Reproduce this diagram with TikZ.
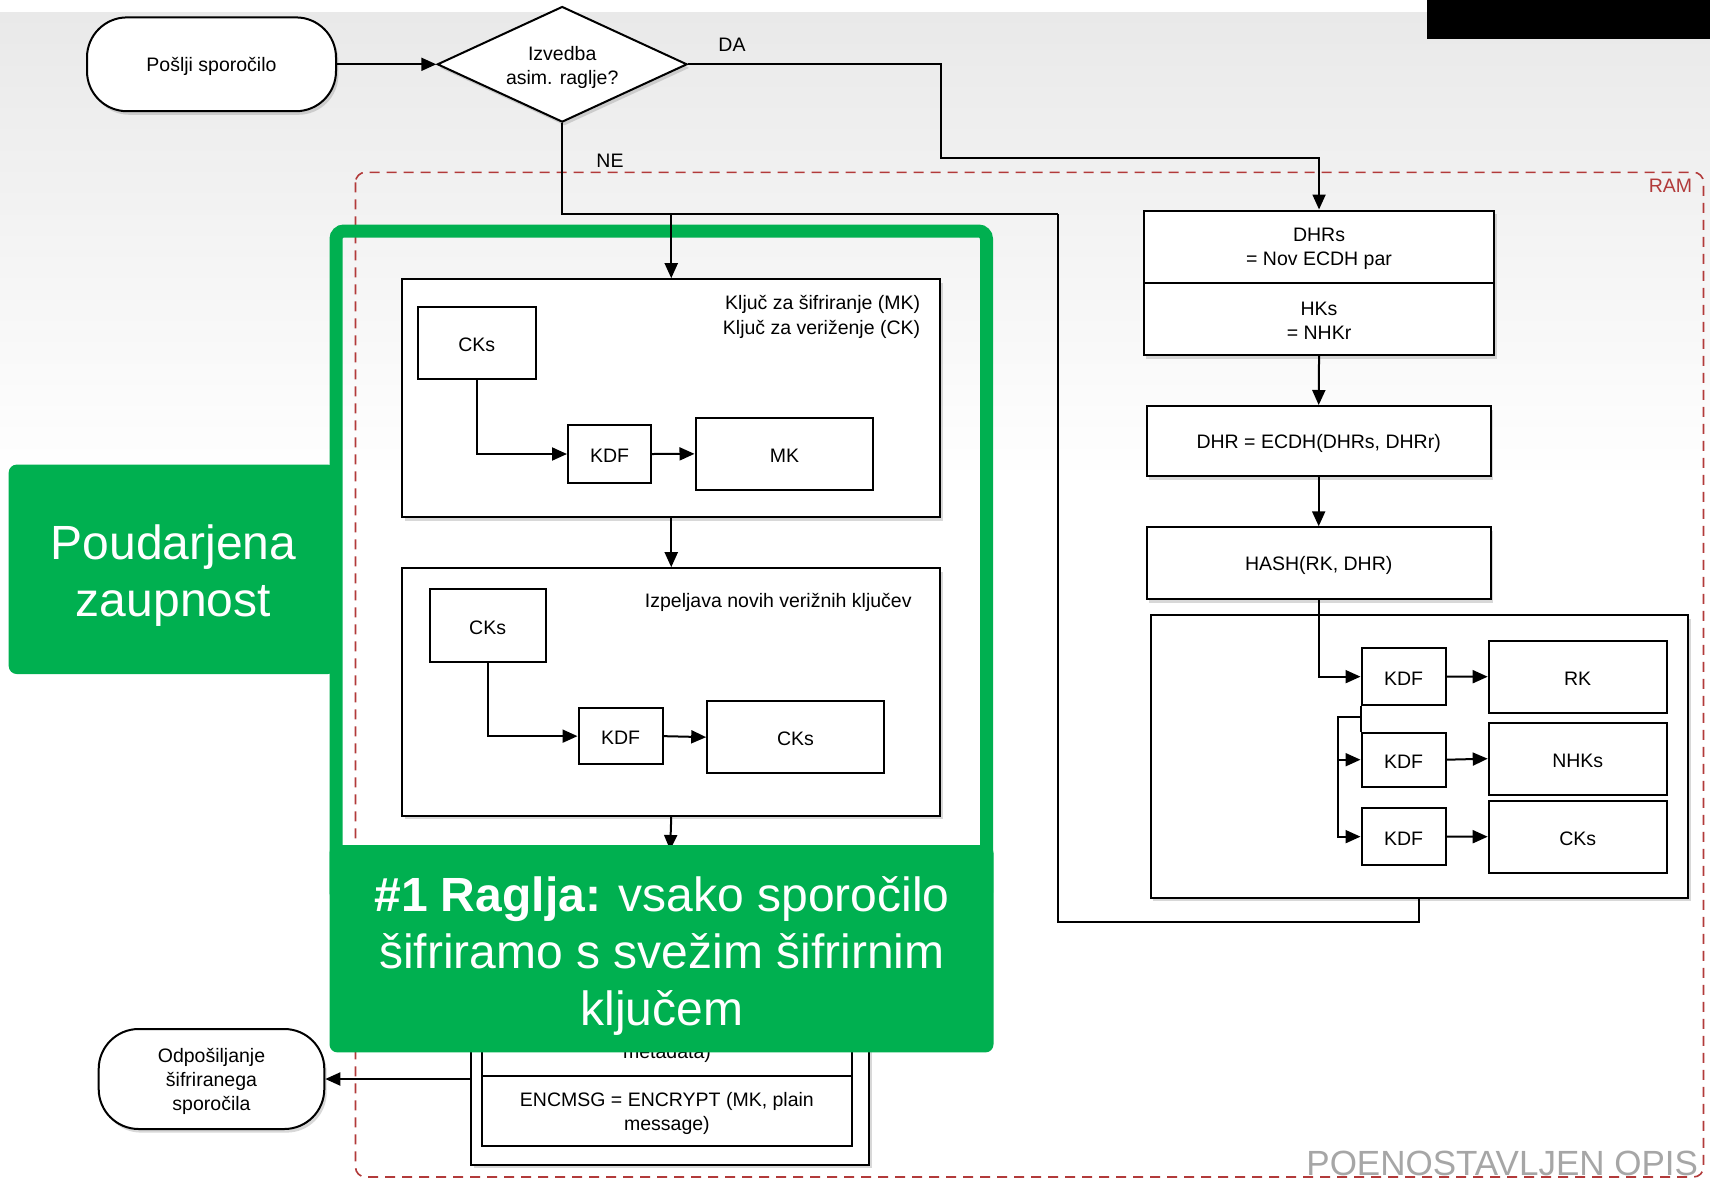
\documentclass[tikz,border=0pt]{standalone}
\usepackage{fontspec}
\setmainfont{Liberation Sans}
\usetikzlibrary{shapes.geometric,arrows.meta,fit,shadows}
\definecolor{hlgreen}{RGB}{0,176,80}
\definecolor{ramred}{RGB}{178,58,58}
\definecolor{bggray}{RGB}{233,233,233}
\begin{document}
\begin{tikzpicture}[x=0.5pt,y=-0.5pt,
  every node/.style={font=\fontsize{9.75}{12}\selectfont, inner sep=0pt},
  shad/.style={drop shadow={shadow xshift=1.2pt, shadow yshift=-1.8pt, opacity=0.3}},
  box/.style={draw, fill=white, line width=1pt, shad},
  plain/.style={draw, fill=white, line width=1pt},
  term/.style={draw, fill=white, line width=1pt, rounded corners=20pt, shad},
  txt/.style={label={[align=center, yshift=-1pt]center:{#1}}},
  arr/.style={line width=1pt, -{Triangle[length=7.5pt,width=6.5pt]}},
  conn/.style={line width=1pt},
  greenbox/.style={fill=hlgreen, rounded corners=4pt},
  greentext/.style={text=white, font=\fontsize{24}{28.7}\selectfont, align=center}
]
\useasboundingbox (0,0) rectangle (1710,1179);
% background
\fill[white] (0,0) rectangle (1710,1179);
\shade[top color=bggray, bottom color=white] (0,12) rectangle (1710,480);
\fill[black] (1426.5,0) rectangle (1710,39.3);

% RAM region
\draw[ramred, line width=0.8pt, dash pattern=on 5pt off 3.5pt, rounded corners=5pt] (355.5,172.3) rectangle (1703.5,1177);
\node[text=ramred, anchor=east] (ram) at (1692.6,185.4) {RAM};

% start and decision
\node[term, fit={(87,17.4)(336,111.2)}, txt={Pošlji sporočilo}] (start) {};
\node[draw, fill=white, line width=1pt, shape=diamond, aspect=2.16, minimum width=124.9pt, minimum height=57.8pt, shad,
      label={[align=center, yshift=-1.8pt]center:{Izvedba\\asim. raglje?}}] (dec) at (562.2,64.3) {};
\draw[arr] (start.east) -- (dec.west);
\node (da) at (732,45) {DA};
\node (ne) at (610,160.5) {NE};

% right column
\node[box, fit={(1144,210.5)(1494.1,355)}] (dh) {};
\node[plain, fit={(1144,210.5)(1494.1,283.3)}, txt={DHRs\\= Nov ECDH par}] (dhs) {};
\node[plain, fit={(1144,283.3)(1494.1,355)}, txt={HKs\\= NHKr}] (hks) {};
\node[box, fit={(1146.7,406)(1490.7,476)}, txt={DHR = ECDH(DHRs, DHRr)}] (dhr) {};
\node[box, fit={(1146.7,527.3)(1490.7,599.3)}, txt={HASH(RK, DHR)}] (hash) {};
\draw[arr] (dh.south) -- (dhr.north);
\draw[arr] (dhr.south) -- (hash.north);
\coordinate (daA) at (941.2,158.1);
\draw[arr] (dec.east) -| (daA) -| (dh.north);

\node[box, fit={(1150.6,615.1)(1688.2,897.6)}] (big) {};
\node[plain, fit={(1361.5,648.3)(1445.8,705)}, txt=KDF] (k1) {};
\node[plain, fit={(1361.5,732.7)(1445.8,786.7)}, txt=KDF] (k2) {};
\node[plain, fit={(1361.5,808.3)(1445.8,865)}, txt=KDF] (k3) {};
\node[plain, fit={(1488.7,640.7)(1666.7,712.7)}, txt=RK] (rk) {};
\node[plain, fit={(1488.7,722.7)(1666.7,794.7)}, txt=NHKs] (nhks) {};
\node[plain, fit={(1488.7,800.7)(1666.7,872.7)}, txt=CKs] (cks3) {};
\draw[arr] (hash.south) |- (k1.west);
\draw[conn] (k1.south west) -- (k2.north west);
\coordinate (brA) at (1361.5,716.7);
\coordinate (brB) at (1338.3,716.7);
\draw[arr] (brA) -- (brB) |- (k3.west);
\draw[arr] (brB |- k2.west) -- (k2.west);
\draw[arr] (k1.east) -- (rk.west);
\draw[arr] (k2.east) -- (nhks.west);
\draw[arr] (k3.east) -- (cks3.west);

% return loop and NE branch
\coordinate (rj) at (1057.9,213.8);
\coordinate (rb) at (1057.9,921.6);
\draw[conn] (big.south) |- (rb) -- (rj);
\draw[conn] (dec.south) |- (rj);

% box 1
\node[box, fit={(402.4,279.2)(940.1,516.9)}] (b1) {};
\node[anchor=east, align=right, font=\fontsize{9.75}{12.5}\selectfont] (b1t) at (920.6,316.5) {Ključ za šifriranje (MK)\\Ključ za veriženje (CK)};
\node[plain, fit={(418,306.7)(535.5,378.7)}, txt=CKs] (c1) {};
\node[plain, fit={(568,425.3)(651,482.7)}, txt=KDF] (kd1) {};
\node[plain, fit={(695.5,417.7)(873.3,490)}, txt=MK] (mk) {};
\draw[arr] (c1.south) |- (kd1.west);
\draw[arr] (kd1.east) -- (mk.west);

% box 2
\node[box, fit={(402.4,568.2)(940.1,815.8)}] (b2) {};
\node[anchor=east] (b2t) at (912,602) {Izpeljava novih verižnih ključev};
\node[plain, fit={(429.7,589.3)(545.5,662.3)}, txt=CKs] (c2) {};
\node[plain, fit={(578.5,708.3)(662.6,764)}, txt=KDF] (kd2) {};
\node[plain, fit={(707.2,701)(883.7,773.3)}, txt=CKs] (c2b) {};
\draw[arr] (c2.south) |- (kd2.west);
\draw[arr] (kd2.east) -- (c2b.west);
\draw[arr] (b1.south) -- (b2.north);

% encryption box
\node[box, fit={(471.1,851)(869.2,1164.8)}] (enc) {};
\node[plain, fit={(482,990)(851.8,1076)}] (row1) {};
\node[anchor=base] (meta) at (667,1058) {metadata)};
\node[plain, fit={(482,1076)(851.8,1146)}, txt={ENCMSG = ENCRYPT (MK, plain\\message)}] (row2) {};
\draw[arr] (b2.south) -- (enc.north);

\node[term, fit={(98.7,1029)(324.3,1129)}, txt={Odpošiljanje\\šifriranega\\sporočila}] (fin) {};
\draw[arr] (enc.west |- fin.east) -- (fin.east);

% highlight
\node[greenbox, fit={(8.7,464.6)(336,674)}] (pz) {};
\node[greentext] (pzt) at (173.4,575.4) {Poudarjena\\zaupnost};
\draw[hlgreen, line width=6.5pt, rounded corners=4pt] (336,231) rectangle (986.5,900);
\node[greenbox, fit={(329.5,845)(993.5,1052.4)}] (rg) {};
\node[greentext] (rgt) at (662,956) {\textbf{\#1 Raglja:} vsako sporočilo\\šifriramo s svežim šifrirnim\\ključem};
\draw[arr] (b1.north |- rj) -- (b1.north);

\node[anchor=base west, text=black!35, font=\fontsize{17.5}{21}\selectfont] (po) at (1306,1175) {POENOSTAVLJEN OPIS};
\end{tikzpicture}
\end{document}
